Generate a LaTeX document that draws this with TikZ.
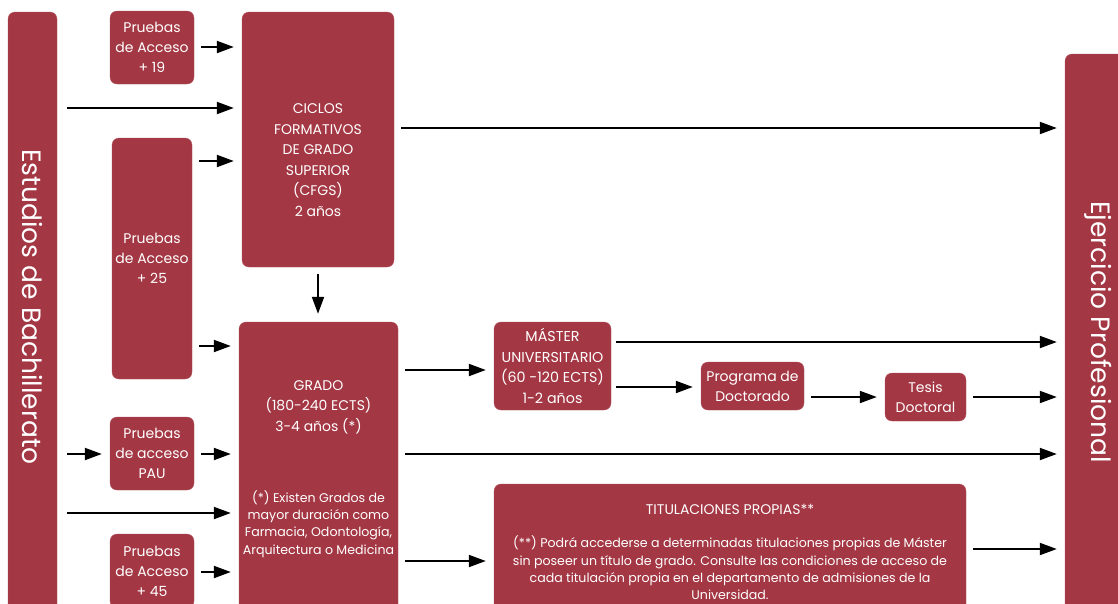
\documentclass[tikz,border=0pt]{standalone}
\usepackage{fontspec}
\setmainfont{Poppins}
\usetikzlibrary{positioning, arrows.meta}
\definecolor{granate}{HTML}{A43744}
\tikzset{
	x=1pt, y=-1pt,
	every text node part/.style= {
		align=center
	},
	block/.style= {
		rectangle,
		rounded corners=7pt,
		fill=granate,
		draw=granate!85!white,
		inner sep=0pt,
		text=white,
		font=\fontsize{14}{20}\selectfont
	},
	txt/.style= {
		text=white,
		inner sep=0pt,
		font=\fontsize{14}{20.5}\selectfont
	},
	note/.style= {
		text=white,
		inner sep=0pt,
		font=\fontsize{12.6}{17.3}\selectfont
	},
	bartitle/.style= {
		text=white,
		rotate=-90,
		font=\fontsize{26.5}{30}\selectfont
	},
	link/.style= {
		line width=2pt,
		-{Triangle[length=17pt, width=12pt]},
		shorten <=7pt,
		shorten >=8pt
	}
}

\begin{document}
\begin{tikzpicture}

	\clip (0,0) rectangle (1118,603);

	% side bars
	\node (bach)[block, minimum width=49pt, minimum height=608pt] at (32.5,316) {};
	\node (bachtxt)[bartitle] at (32.5,307) {Estudios de Bachillerato};
	\node (ejer)[block, minimum width=65pt, minimum height=566pt] at (1097.5,337) {};
	\node (ejertxt)[bartitle] at (1098,332) {Ejercicio Profesional};

	% access tests
	\node (p19)[block, minimum width=84pt, minimum height=73pt] at (152,47.5) {Pruebas\\de Acceso\\+ 19};
	\node (p25)[block, minimum width=80pt, minimum height=241pt] at (152,258.5) {Pruebas\\de Acceso\\+ 25};
	\node (pau)[block, minimum width=84pt, minimum height=73pt] at (152,453.5) {Pruebas\\de acceso\\PAU};
	\node (p45)[block, minimum width=84pt, minimum height=74pt] at (152,571) {Pruebas\\de Acceso\\+ 45};

	% studies
	\node (ciclos)[block, minimum width=152pt, minimum height=255pt] at (318,139.5) {};
	\node (ciclostxt)[txt] at (318,160) {CICLOS\\FORMATIVOS\\DE GRADO\\SUPERIOR\\(CFGS)\\2 años};
	\node (grado)[block, minimum width=159pt, minimum height=298pt] at (318.5,471) {};
	\node (gradotxt)[txt] at (318.5,407) {GRADO\\(180-240 ECTS)\\3-4 años (*)};
	\node (gradonote)[note] at (318.5,524) {(*) Existen Grados de\\mayor duración como\\Farmacia, Odontología,\\Arquitectura o Medicina};
	\node (master)[block, minimum width=117pt, minimum height=88pt, font=\fontsize{14.3}{20.5}\selectfont] at (552.5,366) {MÁSTER\\UNIVERSITARIO\\(60 -120 ECTS)\\1-2 años};
	\node (prog)[block, minimum width=103pt, minimum height=48pt] at (752.5,386) {Programa de\\Doctorado};
	\node (tesis)[block, minimum width=81pt, minimum height=48pt] at (925.5,397) {Tesis\\Doctoral};
	\node (titul)[block, minimum width=472pt, minimum height=136pt] at (730,552) {};
	\node (titultxt)[txt] at (730,509) {TITULACIONES PROPIAS**};
	\node (titulnote)[note] at (730,568) {(**) Podrá accederse a determinadas titulaciones propias de Máster\\sin poseer un título de grado. Consulte las condiciones de acceso de\\cada titulación propia en el departamento de admisiones de la\\Universidad.};

	% arrow heights
	\foreach \n/\y in {h19/47, hbach/108, hcic/128, h25a/161, h25b/346, hmas/370, hmej/342, hprog/387, hdoc/397, hpau/454, hgrado/513, htej/549, htit/561, h45/572}
	{
		\coordinate (\n) at (0,\y);
	}

	\draw[link] (p19.east |- h19) to (ciclos.west |- h19);
	\draw[link, shorten <=10pt] (bach.east |- hbach) to (ciclos.west |- hbach);
	\draw[link] (p25.east |- h25a) to (ciclos.west |- h25a);
	\draw[link] (ciclos.east |- hcic) to (ejer.west |- hcic);
	\draw[link] (ciclos.south) to (ciclos.south |- grado.north);
	\draw[link] (p25.east |- h25b) to (grado.west |- h25b);
	\draw[link, shorten <=10pt] (bach.east |- hpau) to (pau.west |- hpau);
	\draw[link] (pau.east |- hpau) to (grado.west |- hpau);
	\draw[link, shorten <=10pt] (bach.east |- hgrado) to (grado.west |- hgrado);
	\draw[link] (p45.east |- h45) to (grado.west |- h45);
	\draw[link] (grado.east |- hmas) to (master.west |- hmas);
	\draw[link, shorten <=5pt] (master.east |- hmej) to (ejer.west |- hmej);
	\draw[link, shorten <=5pt] (master.east |- hprog) to (prog.west |- hprog);
	\draw[link] (prog.east |- hdoc) to (tesis.west |- hdoc);
	\draw[link] (tesis.east |- hdoc) to (ejer.west |- hdoc);
	\draw[link] (grado.east |- hpau) to (ejer.west |- hpau);
	\draw[link] (grado.east |- htit) to (titul.west |- htit);
	\draw[link] (titul.east |- htej) to (ejer.west |- htej);

\end{tikzpicture}
\end{document}
